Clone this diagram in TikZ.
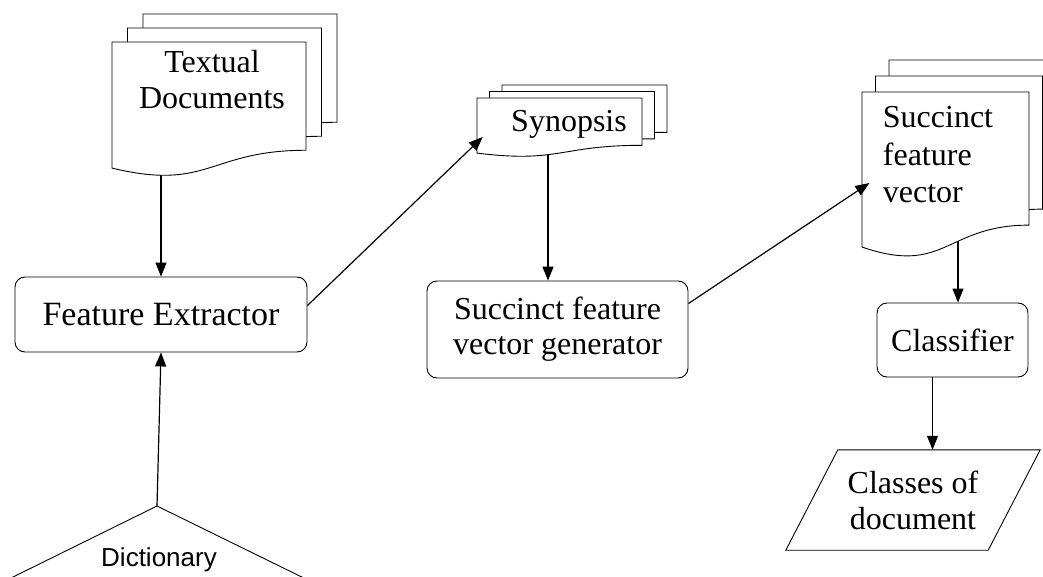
\documentclass[tikz,border=0pt]{standalone}
\usepackage{fontspec}
\setmainfont{Liberation Serif}
\newfontfamily\dictfont{Liberation Sans}
\usetikzlibrary{arrows.meta}
\usetikzlibrary{backgrounds}
\tikzset{box/.style={draw,rounded corners=10pt,line width=0.9pt,align=center,
		font=\fontsize{32}{35}\selectfont},
	doc/.style={align=center,font=\fontsize{32}{36}\selectfont},
	sheet/.style={draw,fill=white,line width=0.9pt},
	arr/.style={-{Triangle[length=14pt,width=11pt]},line width=1.2pt}}
% one sheet: left, top, width, height
\newcommand{\docsheet}[4]{\draw[sheet] (#1,#2) -- ({#1+#3},#2) -- ({#1+#3},{#2+0.802*#4})
	.. controls ({#1+0.5*#3},{#2+0.802*#4}) and ({#1+0.5*#3},{#2+1.1075*#4}) .. (#1,{#2+0.934*#4}) -- cycle;}
% three sheets, back ones shifted by dx, dy
\newcommand{\docstack}[6]{\docsheet{#1+2*#5}{#2-2*#6}{#3}{#4}
	\docsheet{#1+#5}{#2-#6}{#3}{#4}
	\docsheet{#1}{#2}{#3}{#4}}

\begin{document}
\begin{tikzpicture}[x=1pt,y=-1pt]
		\useasboundingbox (0,0) rectangle (1043,577);
		\begin{scope}
			\docstack{112}{42}{194}{135}{15.5}{14}
			\node[doc] (txtdoc) at (212,80) {Textual\\Documents};
			\docstack{477}{98}{165}{59}{12.5}{6.5}
			\node[doc] (synop) at (569,124) {Synopsis};
			\docstack{862}{92}{167}{166}{13.5}{16}
			\node[doc,align=left,font=\fontsize{32}{37.5}\selectfont] (sfvec) at (938,155) {Succinct\\feature\\vector};
		\end{scope}
		\node[box,minimum width=292pt,minimum height=75pt,font=\fontsize{34}{38}\selectfont] (fext) at (161,314.5) {Feature Extractor};
		\node[box,minimum width=261pt,minimum height=97pt] (vgen) at (557.5,329.5) {Succinct feature\\vector generator};
		\node[box,minimum width=151pt,minimum height=74pt] (clf) at (952.5,340) {Classifier};
		\node[doc,minimum width=202pt,minimum height=100pt] (clsdoc) at (913,500) {Classes of\\document};
		\draw[line width=0.9pt] ([xshift=26pt]clsdoc.north west) -- ([xshift=26pt]clsdoc.north east)
			-- ([xshift=-26pt]clsdoc.south east) -- ([xshift=-26pt]clsdoc.south west) -- cycle;
		\coordinate (dicttop) at (157,506);
		\draw[sheet] (dicttop) -- (-30,598.2) -- (-30,700) -- (345,700) -- (345,598.2) -- cycle;
		\node[font=\dictfont\fontsize{26}{30}\selectfont] (dict) at (159,560) {Dictionary};
		\begin{scope}[on background layer]
			\draw[arr] (fext.north |- txtdoc.center) -- (fext.north);
			\draw[arr] ([xshift=-9.5pt]vgen.north |- synop.center) -- ([xshift=-9.5pt]vgen.north);
			\draw[arr] ([xshift=5.5pt]clf.north |- sfvec.center) -- ([xshift=5.5pt]clf.north);
		\end{scope}
		\draw[arr] (dicttop) -- (fext.south);
		\draw[arr] ([yshift=9pt]fext.east) -- ([xshift=-25pt,yshift=-13pt]synop.west);
		\draw[arr] ([yshift=26pt]vgen.east) -- ([xshift=-10pt,yshift=-28pt]sfvec.west);
		\draw[arr] ([xshift=-20pt]clf.south) -- ([xshift=-20pt]clf.south |- clsdoc.north);
	\end{tikzpicture}
\end{document}
